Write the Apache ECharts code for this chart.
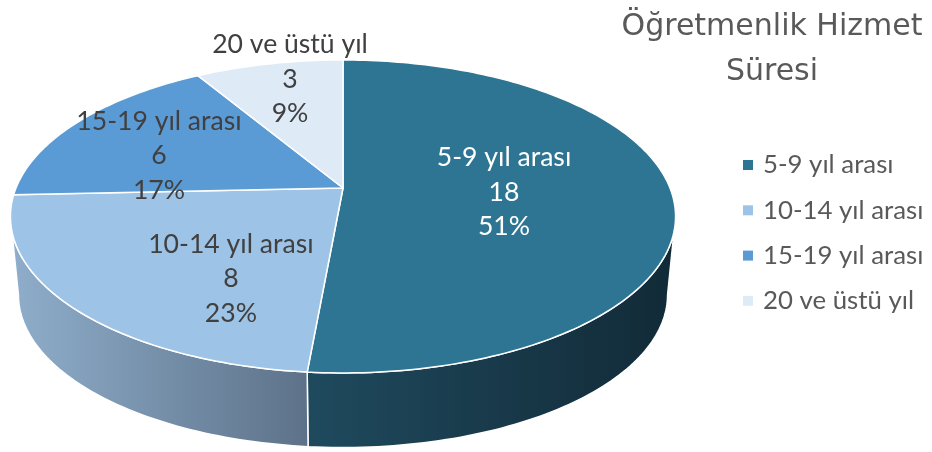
<!DOCTYPE html>
<html lang="tr">
<head>
    <meta charset="UTF-8">
    <title>Öğretmenlik Hizmet Süresi</title>
    <script src="https://cdn.jsdelivr.net/npm/echarts@6/dist/echarts.min.js"></script>
    <style>
        *{
            margin: 0;
            padding: 0;
        }
        body,html{
            width: 100%;
            height: 100%;
            overflow: hidden;
            background: #fff;
        }
        .box{
            width: 932px;
            height: 452px;
        }
    </style>
</head>
<body>
<div class="box"></div>
<script>
    const categories = ['5-9 yıl arası', '10-14 yıl arası', '15-19 yıl arası', '20 ve üstü yıl'];
    const values = [18, 8, 6, 3];

    const topColors = ['#2E7594', '#9DC3E6', '#5B9BD5', '#DEEBF7'];
    const sideColors = [['#1F4A5E', '#122A37'], ['#8FAECB', '#5D7289'], ['#3F6E98', '#2F5577'], ['#9EAEC0', '#7C8C9E']];
    const labelColors = ['#fff', '#404040', '#404040', '#404040'];
    // nudges for the data labels, px from the slice middle
    const labelShift = [[-3, 1], [14, 35], [-46, 2], [-13, -42]];

    const font = 'Lato, "Open Sans", sans-serif';

    const total = values.reduce((a, b) => a + b, 0);
    const starts = [];
    let acc = 0;
    values.forEach(v => {
        starts.push(acc / total * Math.PI * 2);
        acc += v;
    });
    const spans = values.map(v => v / total * Math.PI * 2);

    // fake 3d: top face is a perspective projected circle, side hangs below it
    const cx = 343, cy = 188;
    const rx = 327, ry = 151.3;
    const persp = -0.182;
    const depth = 79, bottomScale = 0.976;
    const sideFrom = Math.acos(persp), sideTo = Math.PI * 2 - sideFrom;

    function project(theta, r, bottom) {
        let u = r * Math.sin(theta), v = -r * Math.cos(theta);
        let d = 1 + persp * v;
        let s = bottom ? bottomScale : 1;
        return [cx + s * rx * u / d, cy + s * ry * v / d + (bottom ? depth : 0)];
    }

    function arc(a0, a1, bottom) {
        let n = Math.max(4, Math.ceil((a1 - a0) / 0.02));
        let pts = [];
        for (let j = 0; j <= n; j++) {
            pts.push(project(a0 + (a1 - a0) * j / n, 1, bottom));
        }
        return pts;
    }

    function renderSlice(i) {
        return function (params, api) {
            let val = api.value(0);
            let a0 = starts[i], a1 = a0 + spans[i];
            let children = [];

            let s0 = Math.max(a0, sideFrom), s1 = Math.min(a1, sideTo);
            if (s1 > s0) {
                let pts = arc(s0, s1, false).concat(arc(s0, s1, true).reverse());
                children.push({
                    type: 'polygon',
                    z2: 1,
                    shape: {points: pts},
                    style: {
                        fill: new echarts.graphic.LinearGradient(0, 0, 1, 0, [
                            {offset: 0, color: sideColors[i][0]},
                            {offset: 1, color: sideColors[i][1]}
                        ]),
                        stroke: '#fff',
                        lineWidth: 1.5,
                        lineJoin: 'round'
                    }
                });
            }

            children.push({
                type: 'polygon',
                z2: 5,
                shape: {points: [[cx, cy]].concat(arc(a0, a1, false))},
                style: {fill: topColors[i], stroke: '#fff', lineWidth: 1.5, lineJoin: 'round'}
            });

            let p = project((a0 + a1) / 2, 0.5, false);
            let pct = Math.round(val / total * 100);
            children.push({
                type: 'text',
                z2: 10,
                style: {
                    text: categories[i] + '\n' + val + '\n' + pct + '%',
                    x: p[0] + labelShift[i][0],
                    y: p[1] + labelShift[i][1],
                    align: 'center',
                    verticalAlign: 'middle',
                    fill: labelColors[i],
                    fontSize: 26.6,
                    fontFamily: font,
                    lineHeight: 34.5
                }
            });
            return {type: 'group', children: children};
        };
    }

    let series = categories.map((name, i) => ({
        name: name,
        type: 'custom',
        coordinateSystem: 'none',
        itemStyle: {color: topColors[i]},
        renderItem: renderSlice(i),
        data: [[values[i]]]
    }));

    let myChart = echarts.init(document.querySelector('.box'));
    myChart.setOption({
        animation: false,
        title: {
            text: 'Öğretmenlik Hizmet\nSüresi',
            left: 767,
            top: 0,
            textAlign: 'center',
            textStyle: {
                color: '#595959',
                fontSize: 30,
                lineHeight: 45,
                fontWeight: 'normal',
                fontFamily: '"DejaVu Sans", sans-serif'
            }
        },
        legend: {
            orient: 'vertical',
            left: 738,
            top: 145,
            itemWidth: 10,
            itemHeight: 10,
            itemGap: 15.3,
            icon: 'rect',
            textStyle: {
                color: '#595959',
                fontSize: 25.8,
                lineHeight: 30,
                fontFamily: font,
                padding: [0, 0, 0, 5]
            },
            data: categories
        },
        series: series
    });
</script>
</body>
</html>
